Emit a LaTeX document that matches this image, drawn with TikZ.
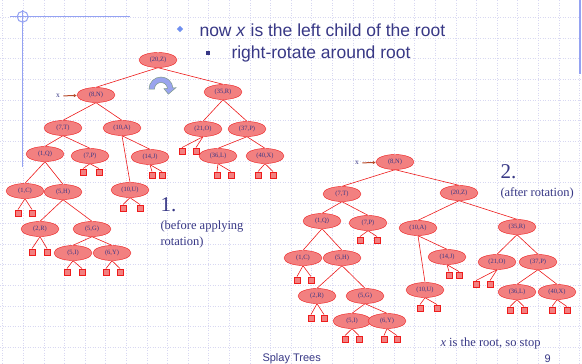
\documentclass[tikz,border=0pt]{standalone}
\usepackage{fontspec}
\setmainfont{Liberation Serif}
\setsansfont{Liberation Sans}
\usepackage{xcolor}
\usepackage{tikz}
\usetikzlibrary{shapes.geometric, arrows.meta, positioning}

\definecolor{slideblue}{HTML}{383886}
\definecolor{nodefill}{HTML}{F28080}
\definecolor{nodeline}{HTML}{EE1C1C}
\definecolor{gridcol}{HTML}{D8D8F2}
\definecolor{rulecol}{HTML}{94A2F2}
\definecolor{bulletblue}{HTML}{6F8FF0}
\definecolor{xarrow}{HTML}{B84A2A}
\definecolor{rotfill}{HTML}{9AA4EE}
\definecolor{rotline}{HTML}{7E9A86}

\begin{document}
\begin{tikzpicture}[
  x=1pt, y=-1pt,
  every node/.style={font=\fontsize{6.5}{7}\selectfont, text=slideblue},
  pair/.style={ellipse, draw=nodeline, fill=nodefill, minimum width=38pt,
               minimum height=15pt, inner sep=0pt},
  leaf/.style={rectangle, draw=nodeline, fill=nodefill, minimum size=6.5pt,
               inner sep=0pt},
  treeline/.style={draw=nodeline, line width=0.6pt},
  gridline/.style={gridcol, dash pattern=on 1pt off 1.5pt, line width=0.5pt},
  deco/.style={rulecol, line width=1pt},
  head/.style={anchor=base west, font=\sffamily\fontsize{17.5}{20}\selectfont},
  note/.style={anchor=base west, font=\fontsize{12.5}{15}\selectfont},
  bignum/.style={anchor=base west, font=\fontsize{21}{21}\selectfont},
  xmark/.style={font=\fontsize{7.5}{8}\selectfont},
  xarr/.style={-{Latex[length=3pt,width=3.5pt]}, xarrow, line width=1pt},
]
  % slide background
  \fill[white] (0,0) rectangle (582,364);
  \useasboundingbox (0,0) rectangle (582,364);
  \foreach \i in {0,...,28}
    \draw[gridline] ({2.7+20.6*\i},0) -- ({2.7+20.6*\i},364);
  \foreach \j in {0,...,17}
    \draw[gridline] (0,{17.5+20.6*\j}) -- (582,{17.5+20.6*\j});
  \draw[deco] (10,16.7) -- (130,16.7);
  \draw[deco] (22.7,10) -- (22.7,167);
  \draw[deco] (22.7,16.7) circle[radius=5.5];
  \draw[rulecol, line width=2pt] (580,0) -- (580,74);

  % header
  \node[diamond, fill=bulletblue, minimum size=6.5pt, inner sep=0pt] (dot1) at (180,29) {};
  \node[head] (line1) at (196,36.5) {now \textit{x} is the left child of the root};
  \node[rectangle, fill=slideblue, minimum size=4.5pt, inner sep=0pt] (dot2) at (208,53) {};
  \node[head] (line2) at (228,58) {right-rotate around root};

  % tree before rotation
  \node[pair] (lZ) at (158,60) {(20,Z)};
  \node[pair] (lN) at (96,95) {(8,N)};
  \node[pair] (lR) at (223,92) {(35,R)};
  \node[pair] (lT) at (63,128) {(7,T)};
  \node[pair] (lA) at (122,128) {(10,A)};
  \node[pair] (lO) at (203,129) {(21,O)};
  \node[pair] (lP37) at (247,129) {(37,P)};
  \node[pair] (lQ) at (45,154) {(1,Q)};
  \node[pair] (lP) at (90,156) {(7,P)};
  \node[pair] (lJ) at (150,157) {(14,J)};
  \node[pair] (lL) at (218,156) {(36,L)};
  \node[pair] (lX) at (265,156) {(40,X)};
  \node[pair] (lC) at (25,191) {(1,C)};
  \node[pair] (lH) at (63,192) {(5,H)};
  \node[pair] (lU) at (130,190) {(10,U)};
  \node[pair] (lR2) at (40,229) {(2,R)};
  \node[pair] (lG) at (92,229) {(5,G)};
  \node[pair] (lI) at (73,253) {(5,I)};
  \node[pair] (lY) at (112,253) {(6,Y)};

  \foreach \a/\b in {lZ/lN, lZ/lR, lN/lT, lN/lA, lR/lO, lR/lP37, lT/lQ, lT/lP,
                     lA/lJ, lA/lU, lP37/lL, lP37/lX, lQ/lC, lQ/lH, lH/lR2,
                     lH/lG, lG/lI, lG/lY}
    \draw[treeline] (\a.south) -- (\b.north);

  \node[xmark] (xl) at (58,96) {x};
  \draw[xarr] (xl) -- (lN);

  % rotation sign
  \begin{scope}[shift={(161,89)}, x=1pt, y=1pt]
    \filldraw[fill=rotfill, draw=rotline, line width=0.5pt]
      (180:12) arc[start angle=180, end angle=5, radius=12] -- (5:15)
      -- (-35:9) -- (5:3) -- (5:6.5)
      arc[start angle=5, end angle=180, radius=6.5] -- cycle;
  \end{scope}

  \node[bignum] (one) at (157,211) {1.};
  \node[note] (before1) at (157,229) {(before applying};
  \node[note] (before2) at (157,245) {rotation)};

  % tree after rotation
  \node[pair] (rN) at (395,162) {(8,N)};
  \node[pair] (rT) at (342,194) {(7,T)};
  \node[pair] (rZ) at (459,193) {(20,Z)};
  \node[pair] (rQ) at (322,221) {(1,Q)};
  \node[pair] (rP) at (368,223) {(7,P)};
  \node[pair] (rA) at (418,228) {(10,A)};
  \node[pair] (rR) at (517,227) {(35,R)};
  \node[pair] (rC) at (303,258) {(1,C)};
  \node[pair] (rH) at (342,258) {(5,H)};
  \node[pair] (rJ) at (447,257) {(14,J)};
  \node[pair] (rO) at (497,262) {(21,O)};
  \node[pair] (rP37) at (538,262) {(37,P)};
  \node[pair] (rR2) at (317,296) {(2,R)};
  \node[pair] (rG) at (365,296) {(5,G)};
  \node[pair] (rU) at (425,290) {(10,U)};
  \node[pair] (rL) at (517,292) {(36,L)};
  \node[pair] (rX) at (557,292) {(40,X)};
  \node[pair] (rI) at (352,321) {(5,I)};
  \node[pair] (rY) at (387,321) {(6,Y)};

  \foreach \a/\b in {rN/rT, rN/rZ, rT/rQ, rT/rP, rZ/rA, rZ/rR, rQ/rC, rQ/rH,
                     rA/rJ, rA/rU, rR/rO, rR/rP37, rH/rR2, rH/rG, rP37/rL,
                     rP37/rX, rG/rI, rG/rY}
    \draw[treeline] (\a.south) -- (\b.north);

  \node[xmark] (xr) at (357,163) {x};
  \draw[xarr] (xr) -- (rN);

  % external leaves
  \foreach \p/\a/\b/\y in {lP/83/99/172, lJ/152/162/175, lC/18/32/213,
      lU/123/140/208, lR2/32/47/252, lI/67/82/272, lY/106/120/272,
      lO/182/196/151, lL/217/231/175, lX/258/273/175,
      rP/360/377/240, rC/297/311/280, rJ/449/459/275, rO/476/490/284,
      rR2/311/324/318, rU/420/437/308, rL/510/524/310, rX/552/567/310,
      rI/345/359/339, rY/384/397/339} {
    \node[leaf] (\p-a) at (\a,\y) {};
    \node[leaf] (\p-b) at (\b,\y) {};
    \draw[treeline] (\p.south) -- (\p-a.north);
    \draw[treeline] (\p.south) -- (\p-b.north);
  }

  \node[bignum] (two) at (497,178) {2.};
  \node[note] (after) at (497,196) {(after rotation)};
  \node[note] (stop) at (437,346) {\textit{x} is the root, so stop};

  % footer
  \node[anchor=base west, font=\sffamily\fontsize{11}{12}\selectfont] (title) at (259,361) {Splay Trees};
  \node[anchor=base west, font=\sffamily\fontsize{11}{12}\selectfont] (page) at (541,362) {9};
\end{tikzpicture}
\end{document}
